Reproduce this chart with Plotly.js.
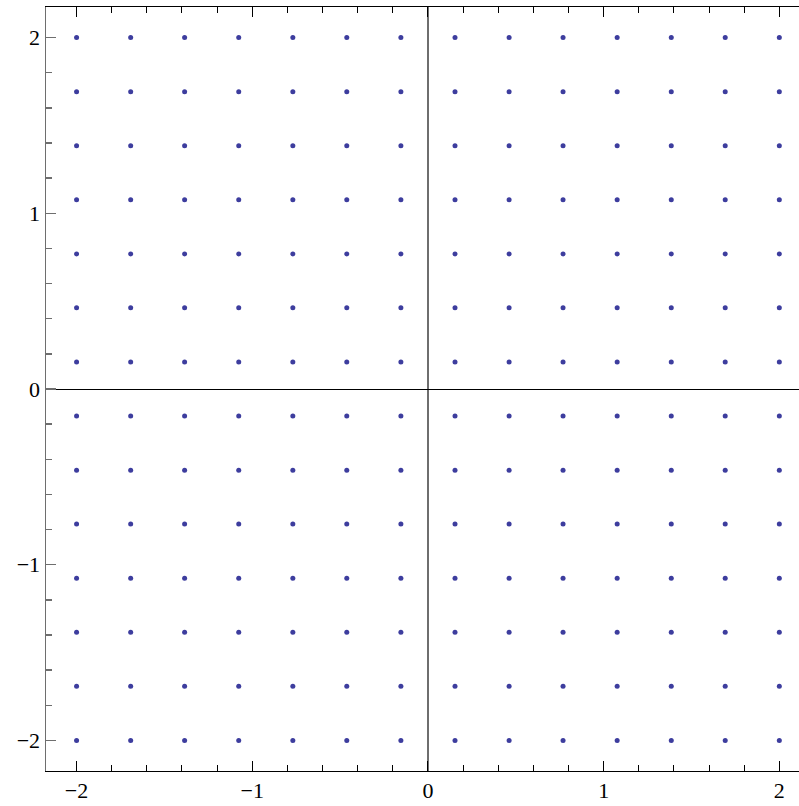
<!DOCTYPE html>
<html>
<head>
<meta charset="utf-8">
<script src="https://cdn.plot.ly/plotly-3.0.1.min.js"></script>
<style>
html,body{margin:0;padding:0;background:#fff;overflow:hidden;}
#chart{width:799px;height:806px;}
</style>
</head>
<body>
<div id="chart"></div>
<script>
// Grid coordinates (14 columns, 14 rows)
var xValues = [-2, -1.692, -1.385, -1.077, -0.769, -0.462, -0.154, 0.154, 0.462, 0.769, 1.077, 1.385, 1.692, 2];
var yValues = [-2, -1.692, -1.385, -1.077, -0.769, -0.462, -0.154, 0.154, 0.462, 0.769, 1.077, 1.385, 1.692, 2];
var tickValues = [-2, -1, 0, 1, 2];
var tickLabels = ["\u22122", "\u22121", "0", "1", "2"];

var px = [], py = [];
for (var i = 0; i < xValues.length; i++) {
  for (var j = 0; j < yValues.length; j++) {
    px.push(xValues[i]);
    py.push(yValues[j]);
  }
}

var trace = {
  x: px, y: py,
  type: 'scatter', mode: 'markers',
  marker: {size: 5, color: '#3d3d9e', line: {width: 0}},
  hoverinfo: 'none'
};

function tf() { return {family: 'Liberation Serif', size: 22, color: '#000'}; }

var layout = {
  width: 799, height: 806,
  margin: {l: 46, r: 0, t: 7, b: 35, pad: 0},
  paper_bgcolor: '#fff', plot_bgcolor: '#fff',
  font: {family: 'Liberation Serif', size: 22, color: '#000'},
  showlegend: false,
  xaxis: {
    range: [-2.174, 2.112],
    showgrid: false,
    zeroline: true, zerolinecolor: '#6e6e6e', zerolinewidth: 1.5,
    showline: true, linecolor: '#000', linewidth: 1,
    mirror: 'ticks',
    ticks: 'inside', ticklen: 10, tickwidth: 1, tickcolor: '#000',
    tickmode: 'array', tickvals: tickValues, ticktext: tickLabels,
    tickfont: tf(),
    minor: {dtick: 0.2, tick0: 0, ticks: 'inside', ticklen: 6, tickwidth: 1, tickcolor: '#000', showgrid: false},
    fixedrange: true
  },
  yaxis: {
    range: [-2.174, 2.174],
    showgrid: false,
    zeroline: true, zerolinecolor: '#000', zerolinewidth: 1,
    showline: true, linecolor: '#6e6e6e', linewidth: 1.5,
    mirror: false,
    ticks: 'inside', ticklen: 10, tickwidth: 1.5, tickcolor: '#6e6e6e',
    tickmode: 'array', tickvals: tickValues, ticktext: tickLabels,
    tickfont: tf(),
    minor: {dtick: 0.2, tick0: 0, ticks: 'inside', ticklen: 6, tickwidth: 1.5, tickcolor: '#6e6e6e', showgrid: false},
    fixedrange: true
  }
};

Plotly.newPlot('chart', [trace], layout, {staticPlot: true, displayModeBar: false});
</script>
</body>
</html>
